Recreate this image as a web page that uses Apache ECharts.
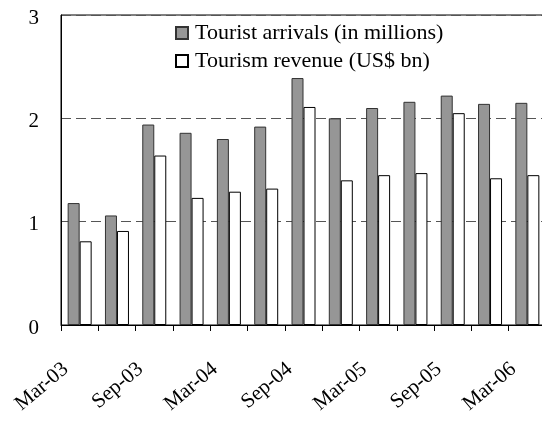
<!DOCTYPE html>
<html>
<head>
<meta charset="utf-8">
<script src="https://cdn.jsdelivr.net/npm/echarts@6/dist/echarts.min.js"></script>
<style>
  html, body { margin: 0; padding: 0; overflow: hidden; background: #fff; }
  #chart { width: 546px; height: 424px; }
</style>
</head>
<body>
<div id="chart"></div>
<script>
// quarterly data
const quarters = ['Mar-03', 'Jun-03', 'Sep-03', 'Dec-03', 'Mar-04', 'Jun-04', 'Sep-04',
                  'Dec-04', 'Mar-05', 'Jun-05', 'Sep-05', 'Dec-05', 'Mar-06'];
const arrivals = [1.18, 1.06, 1.94, 1.86, 1.80, 1.92, 2.39, 2.00, 2.10, 2.16, 2.22, 2.14, 2.15];
const revenue  = [0.81, 0.91, 1.64, 1.23, 1.29, 1.32, 2.11, 1.40, 1.45, 1.47, 2.05, 1.42, 1.45];
const yTicks = [0, 1, 2, 3];

const font = 'Liberation Serif';

var chart = echarts.init(document.getElementById('chart'));

var option = {
  animation: false,
  backgroundColor: '#fff',
  textStyle: { fontFamily: font, color: '#000' },
  grid: {
    left: 61, right: 0, top: 15, bottom: 99,
    show: true, borderColor: '#000', borderWidth: 1, backgroundColor: '#fff'
  },
  legend: {
    orient: 'vertical',
    left: 170, top: 17,
    itemWidth: 12, itemHeight: 12, itemGap: 6,
    icon: 'rect',
    textStyle: { fontFamily: font, fontSize: 22, color: '#000', padding: [0, 0, 0, 2] },
    data: ['Tourist arrivals (in millions)', 'Tourism revenue (US$ bn)']
  },
  xAxis: {
    type: 'category',
    data: quarters,
    axisLine: { lineStyle: { color: '#000', width: 1 } },
    axisTick: { show: true, interval: 0, length: 6, lineStyle: { color: '#000' } },
    axisLabel: {
      interval: 1, rotate: 40, margin: 30,
      padding: [0, 18, 0, 0],
      fontFamily: font, fontSize: 21, color: '#000'
    }
  },
  yAxis: {
    type: 'value',
    min: yTicks[0], max: yTicks[yTicks.length - 1], interval: 1,
    axisLine: { show: true, lineStyle: { color: '#000', width: 1 } },
    axisTick: { show: false },
    axisLabel: {
      margin: 22, verticalAlign: 'top', lineHeight: 6,
      fontFamily: font, fontSize: 21, color: '#000'
    },
    splitLine: { show: true, lineStyle: { color: '#555', type: [10, 5], width: 1 } }
  },
  series: [
    {
      name: 'Tourist arrivals (in millions)',
      type: 'bar',
      data: arrivals,
      barWidth: 12,
      barGap: '0%',
      itemStyle: { color: '#969696', borderColor: '#333', borderWidth: 1 }
    },
    {
      name: 'Tourism revenue (US$ bn)',
      type: 'bar',
      data: revenue,
      barWidth: 12,
      itemStyle: { color: '#fff', borderColor: '#000', borderWidth: 1 }
    }
  ]
};

chart.setOption(option);
</script>
</body>
</html>
